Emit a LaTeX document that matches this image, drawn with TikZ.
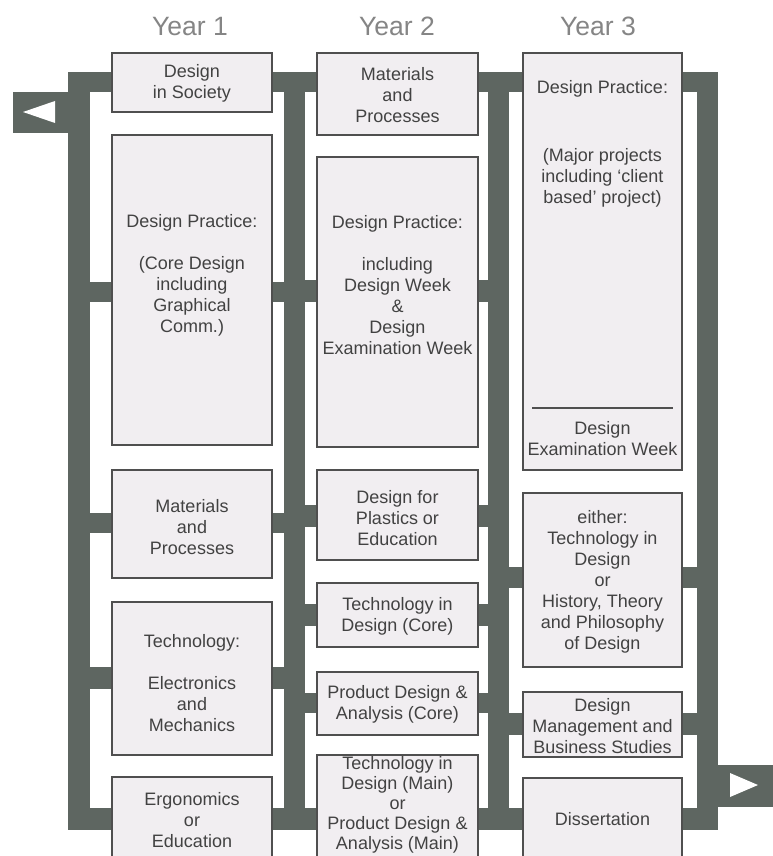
\documentclass[tikz,border=0pt]{standalone}
\usepackage{fontspec}
\setmainfont{Liberation Sans}
\definecolor{barc}{HTML}{5E6661}
\definecolor{boxfill}{HTML}{F1EEF1}
\definecolor{boxline}{HTML}{4F4F4F}
\definecolor{txtc}{HTML}{424242}
\definecolor{yearc}{HTML}{858585}
\begin{document}
\begin{tikzpicture}[x=1pt,y=-1pt,
  bar/.style={fill=barc},
  hole/.style={fill=white},
  box/.style={draw=boxline, fill=boxfill, line width=1.3pt, rectangle, inner sep=0pt},
  txt/.style={text=txtc, font=\fontsize{18}{21}\selectfont, align=center, inner sep=0pt},
  year/.style={text=yearc, font=\fontsize{26.5}{30}\selectfont, anchor=base, inner sep=0pt}]
\clip (0,0) rectangle (773,856);
\fill[white] (0,0) rectangle (773,856);
% year headings
\node[year] (y1) at (190,36) {Year 1};
\node[year] (y2) at (397,36) {Year 2};
\node[year] (y3) at (598,36) {Year 3};
% vertical bars
\fill[bar] (68,72) rectangle (90,830);
\fill[bar] (284,72) rectangle (305,830);
\fill[bar] (488,72) rectangle (509,830);
\fill[bar] (697,72) rectangle (718,830);
% top and bottom bars
\fill[bar] (68,72) rectangle (718,92);
\fill[bar] (68,808) rectangle (718,830);
% column 1 links
\fill[bar] (90,282) rectangle (284,302);
\fill[bar] (90,513) rectangle (284,533);
\fill[bar] (90,667) rectangle (284,689);
% column 2 links
\fill[bar] (305,280) rectangle (488,302);
\fill[bar] (305,505) rectangle (488,527);
\fill[bar] (305,604) rectangle (488,626);
\fill[bar] (305,693) rectangle (488,713);
% column 3 links
\fill[bar] (509,567) rectangle (697,588);
\fill[bar] (509,713) rectangle (697,735);
% entry and exit arrows
\fill[bar] (13,92) rectangle (68,133);
\fill[hole] (23,112) -- (55,101) -- (55,123) -- cycle;
\fill[bar] (718,765) rectangle (773,807);
\fill[hole] (730,773) -- (730,797) -- (758,785) -- cycle;
% column 1 boxes
\node[box, minimum width=160pt, minimum height=59pt] (b11) at (192,82.5) {};
\node[box, minimum width=160pt, minimum height=310pt] (b12) at (192,290) {};
\node[box, minimum width=160pt, minimum height=108pt] (b13) at (192,524) {};
\node[box, minimum width=160pt, minimum height=153pt] (b14) at (192,678.5) {};
\node[box, minimum width=160pt, minimum height=103pt] (b15) at (192,828.5) {};
% column 2 boxes
\node[box, minimum width=161pt, minimum height=82pt] (b21) at (397.5,94) {};
\node[box, minimum width=161pt, minimum height=290pt] (b22) at (397.5,302) {};
\node[box, minimum width=161pt, minimum height=90pt] (b23) at (397.5,515) {};
\node[box, minimum width=161pt, minimum height=64pt] (b24) at (397.5,615) {};
\node[box, minimum width=161pt, minimum height=63pt] (b25) at (397.5,703.5) {};
\node[box, minimum width=161pt, minimum height=125pt] (b26) at (397.5,817.5) {};
% column 3 boxes
\node[box, minimum width=159pt, minimum height=417pt] (b31) at (602.5,261.5) {};
\node[box, minimum width=159pt, minimum height=174pt] (b32) at (602.5,580) {};
\node[box, minimum width=159pt, minimum height=65pt] (b33) at (602.5,724.5) {};
\node[box, minimum width=159pt, minimum height=102pt] (b34) at (602.5,829) {};
% texts column 1
\node[txt] (t11) at (192,83) {Design\\in Society};
\node[txt] (t12) at (192,275) {Design Practice:\\[21pt](Core Design\\including\\Graphical\\Comm.)};
\node[txt] (t13) at (192,527) {Materials\\and\\Processes};
\node[txt] (t14) at (192,683) {Technology:\\[21pt]Electronics\\and\\Mechanics};
\node[txt] (t15) at (192,820) {Ergonomics\\or\\Education};
% texts column 2
\node[txt] (t21) at (397.5,95) {Materials\\and\\Processes};
\node[txt] (t22) at (397.5,285) {Design Practice:\\[21pt]including\\Design Week\\\&\\Design\\Examination Week};
\node[txt] (t23) at (397.5,518) {Design for\\Plastics or\\Education};
\node[txt] (t24) at (397.5,616) {Technology in\\Design (Core)};
\node[txt] (t25) at (397.5,704) {Product Design \&\\Analysis (Core)};
\node[txt, font=\fontsize{18}{20}\selectfont] (t26) at (397.5,805) {Technology in\\Design (Main)\\or\\Product Design \&\\Analysis (Main)};
% texts column 3
\node[txt] (t31a) at (602.5,89) {Design Practice:};
\node[txt] (t31b) at (602.5,178) {(Major projects\\including `client\\based' project)};
\draw[boxline, line width=1.8pt] (532,408) -- (673,408);
\node[txt] (t31c) at (602.5,439) {Design\\Examination Week};
\node[txt] (t32) at (602.5,582) {either:\\Technology in\\Design\\or\\History, Theory\\and Philosophy\\of Design};
\node[txt] (t33) at (602.5,726) {Design\\Management and\\Business Studies};
\node[txt] (t34) at (602.5,819) {Dissertation};
\end{tikzpicture}
\end{document}
